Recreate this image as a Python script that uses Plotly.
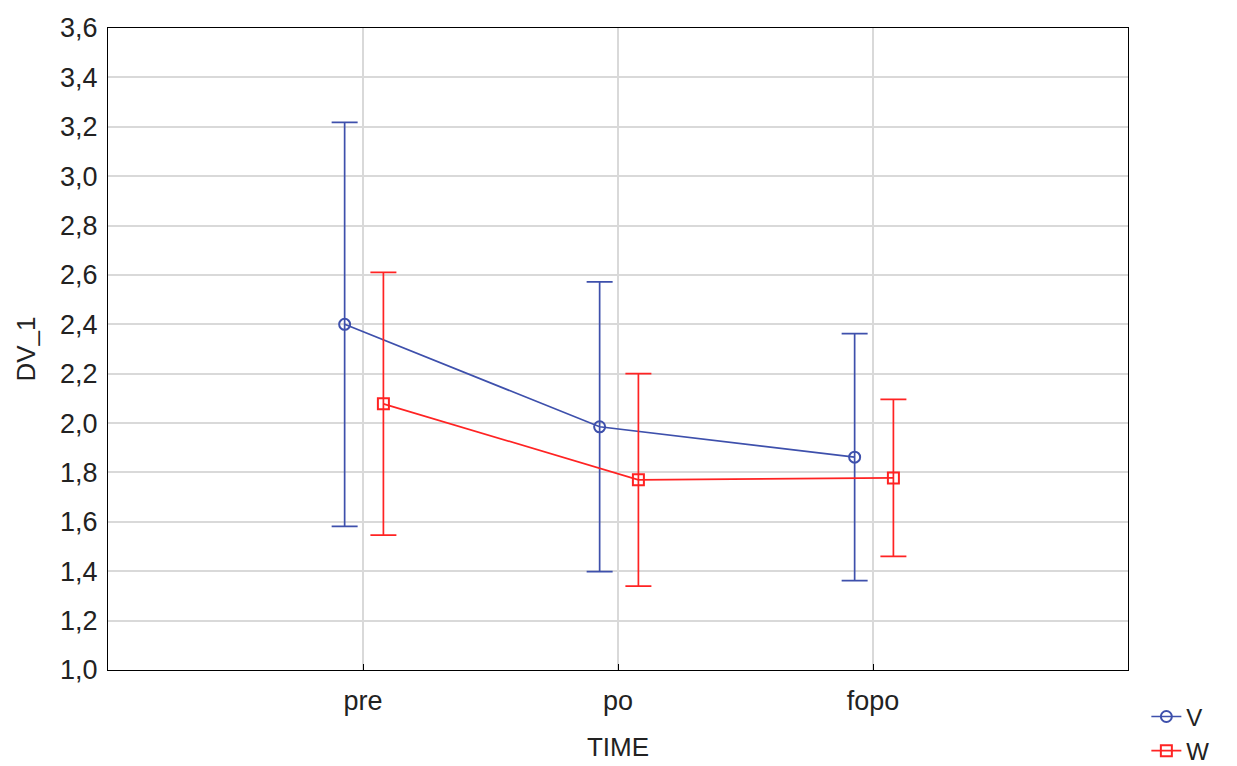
import plotly.graph_objects as go

categories = ["pre", "po", "fopo"]
v_mean = [2.40, 1.985, 1.862]
v_err = [0.818, 0.587, 0.50]
w_mean = [2.078, 1.770, 1.778]
w_err = [0.532, 0.430, 0.318]
y_ticks = [1.0, 1.2, 1.4, 1.6, 1.8, 2.0, 2.2, 2.4, 2.6, 2.8, 3.0, 3.2, 3.4, 3.6]

BLUE = "rgb(62,80,172)"
RED = "rgb(255,35,35)"
FONT = "Liberation Sans, Arial, sans-serif"

pos = list(range(1, len(categories) + 1))
v_x = [p - 0.072 for p in pos]
w_x = [p + 0.080 for p in pos]

fig = go.Figure()
fig.add_trace(go.Scatter(
    x=v_x, y=v_mean, name="V", mode="lines+markers",
    line=dict(color=BLUE, width=1.7),
    marker=dict(symbol="circle-open", size=11, color=BLUE, line=dict(width=2)),
    error_y=dict(type="data", array=v_err, visible=True, color=BLUE, thickness=1.7, width=13),
))
fig.add_trace(go.Scatter(
    x=w_x, y=w_mean, name="W", mode="lines+markers",
    line=dict(color=RED, width=1.7),
    marker=dict(symbol="square-open", size=11, color=RED, line=dict(width=2)),
    error_y=dict(type="data", array=w_err, visible=True, color=RED, thickness=1.7, width=13),
))

fig.update_layout(
    width=1237, height=766,
    margin=dict(l=108, r=109, t=28, b=96, autoexpand=False),
    paper_bgcolor="white", plot_bgcolor="white",
    font=dict(family=FONT, size=26, color="#222"),
    showlegend=True,
    legend=dict(x=1.018, y=-0.038, xanchor="left", yanchor="top",
                font=dict(size=24), bgcolor="rgba(0,0,0,0)",
                itemwidth=30, tracegroupgap=0),
    xaxis=dict(
        range=[0, 4], tickmode="array", tickvals=pos, ticktext=categories,
        showgrid=True, gridcolor="#d9d9d9", gridwidth=2,
        showline=True, linecolor="black", linewidth=1, mirror=True,
        ticks="inside", ticklen=6, tickcolor="black",
        ticklabelstandoff=7,
        zeroline=False,
        title=dict(text="TIME", standoff=22, font=dict(size=26)),
        tickfont=dict(size=27),
    ),
    yaxis=dict(
        range=[1.0, 3.6], tickmode="array", tickvals=y_ticks,
        ticktext=[f"{t:.1f}".replace(".", ",") for t in y_ticks],
        showgrid=True, gridcolor="#d9d9d9", gridwidth=2,
        showline=True, linecolor="black", linewidth=1, mirror=True,
        ticks="", zeroline=False, ticklabelstandoff=4,
        title=dict(text="DV_1", standoff=16, font=dict(size=26)),
        tickfont=dict(size=27),
    ),
)

fig.write_html("out.html")
